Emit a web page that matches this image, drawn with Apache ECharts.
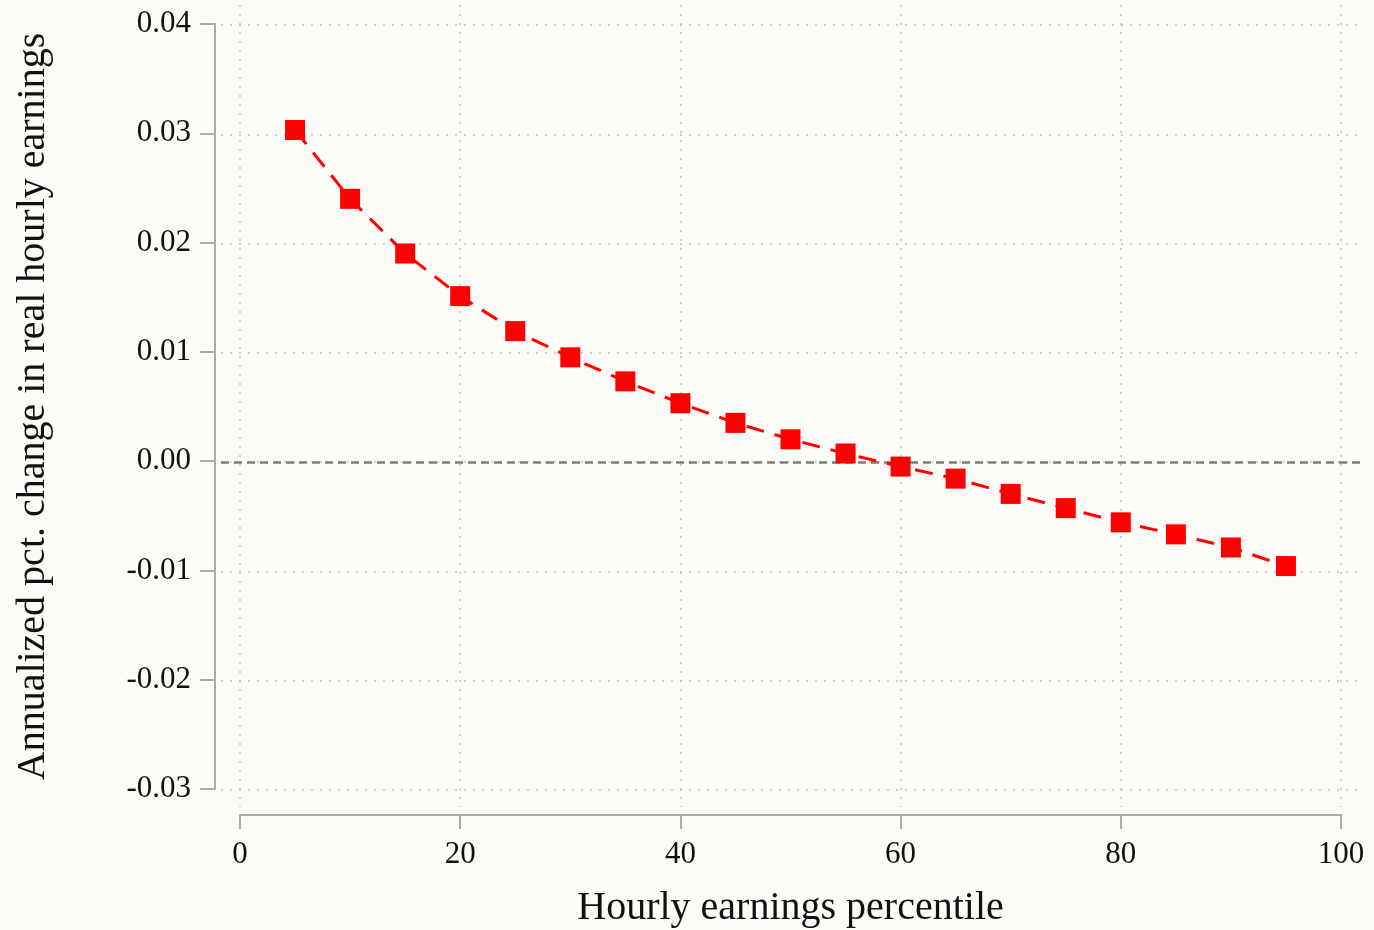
<!DOCTYPE html>
<html>
<head>
<meta charset="utf-8">
<title>Annualized change in real hourly earnings by percentile</title>
<script src="https://cdn.jsdelivr.net/npm/echarts@6/dist/echarts.min.js"></script>
<style>
  html, body { margin: 0; padding: 0; background: #fcfbf7; }
  #chart { width: 1374px; height: 930px; }
</style>
</head>
<body>
<div id="chart"></div>
<script>
// Hourly earnings percentiles and the annualized change at each one
const percentiles = [5, 10, 15, 20, 25, 30, 35, 40, 45, 50, 55, 60, 65, 70, 75, 80, 85, 90, 95];
const annualizedChange = [
  0.0303, 0.0240, 0.0190, 0.0151, 0.0119, 0.0095, 0.0073, 0.0053, 0.0035, 0.0020,
  0.0007, -0.0005, -0.0016, -0.0030, -0.0043, -0.0056, -0.0067, -0.0079, -0.0096
];
const xTicks = [0, 20, 40, 60, 80, 100];
const yTicks = [-0.03, -0.02, -0.01, 0.00, 0.01, 0.02, 0.03, 0.04];

const FONT = '"Liberation Serif", "Times New Roman", serif';
const AXIS_GRAY = '#ababab';

const chart = echarts.init(document.getElementById('chart'), null, { renderer: 'canvas' });

const pairs = percentiles.map((p, i) => [p, annualizedChange[i]]);

chart.setOption({
  backgroundColor: '#fcfbf7',
  animation: false,
  grid: [
    // data area with the axes
    { left: 240, right: 33, top: 24, bottom: 141, outerBoundsMode: 'none', containLabel: false },
    // slightly larger plot region that carries the dotted grid and zero line
    { left: 221, right: 11, top: 5, bottom: 123, outerBoundsMode: 'none', containLabel: false }
  ],
  xAxis: [
    {
      gridIndex: 0, type: 'value', min: 0, max: 100, interval: 20,
      offset: 26,
      name: 'Hourly earnings percentile',
      nameLocation: 'middle', nameGap: 73,
      nameTextStyle: { fontFamily: FONT, fontSize: 40, color: '#111' },
      axisLine: { show: true, onZero: false, lineStyle: { color: AXIS_GRAY, width: 2 } },
      axisTick: { show: true, inside: false, length: 14, lineStyle: { color: AXIS_GRAY, width: 2 } },
      axisLabel: { fontFamily: FONT, fontSize: 31, color: '#111', margin: 24 },
      splitLine: { show: false }
    },
    {
      gridIndex: 1, type: 'value', min: -1.726, max: 102.0,
      axisLine: { show: false },
      axisTick: { show: false, customValues: xTicks },
      axisLabel: { show: false, customValues: xTicks },
      splitLine: { show: true, lineStyle: { color: '#c2c2c2', width: 1.5, type: [2, 7] } }
    }
  ],
  yAxis: [
    {
      gridIndex: 0, type: 'value', min: -0.03, max: 0.04, interval: 0.01,
      offset: 25,
      name: 'Annualized pct. change in real hourly earnings',
      nameLocation: 'middle', nameGap: 162,
      nameTextStyle: { fontFamily: FONT, fontSize: 40, color: '#111' },
      axisLine: { show: true, onZero: false, lineStyle: { color: AXIS_GRAY, width: 2 } },
      axisTick: { show: true, inside: false, length: 15, lineStyle: { color: AXIS_GRAY, width: 2 } },
      axisLabel: {
        fontFamily: FONT, fontSize: 31, color: '#111', margin: 24,
        padding: [5, 0, 0, 0],
        formatter: v => v.toFixed(2)
      },
      splitLine: { show: false }
    },
    {
      gridIndex: 1, type: 'value', min: -0.03156, max: 0.04183,
      axisLine: { show: false },
      axisTick: { show: false, customValues: yTicks },
      axisLabel: { show: false, customValues: yTicks },
      splitLine: { show: true, lineStyle: { color: '#c2c2c2', width: 1.5, type: [2, 7] } }
    }
  ],
  series: [
    {
      // zero reference line across the plot region
      type: 'line',
      xAxisIndex: 1, yAxisIndex: 1,
      data: [],
      silent: true,
      markLine: {
        silent: true,
        symbol: ['none', 'none'],
        label: { show: false },
        lineStyle: { color: '#7d7d7d', width: 2.5, type: [8, 5] },
        data: [{ yAxis: 0 }]
      }
    },
    {
      type: 'line',
      xAxisIndex: 0, yAxisIndex: 0,
      data: pairs,
      symbol: 'rect',
      symbolSize: 20,
      lineStyle: { color: '#ff0000', width: 3, type: [18, 11] },
      itemStyle: { color: '#ff0000' },
      z: 5
    }
  ]
});
</script>
</body>
</html>
